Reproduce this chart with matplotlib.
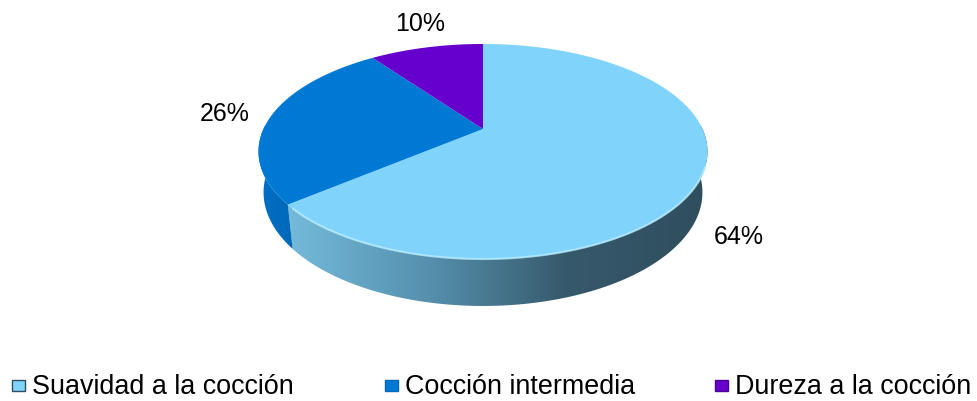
import numpy as np
import matplotlib
matplotlib.use("Agg")
import matplotlib.pyplot as plt
from matplotlib.patches import Polygon, Rectangle
from matplotlib.colors import LinearSegmentedColormap

labels = ["Suavidad a la cocción", "Cocción intermedia", "Dureza a la cocción"]
values = [64, 26, 10]
top_colors = ["#80D3FB", "#0079D5", "#6600CC"]
side_colors = [["#74BADA", "#5590AE", "#36596B", "#2F4E5E"],
               ["#0070C6", "#0068B8"],
               ["#5500AA", "#4A0095"]]
pct_labels = ["64%", "26%", "10%"]
label_pos = [(739, 237), (225, 114), (420, 24)]
legend_x = [12, 385, 715]

plt.rcParams['font.family'] = ['Liberation Sans', 'DejaVu Sans']

W, H = 977, 402
fig = plt.figure(figsize=(W / 100, H / 100), dpi=100)
ax = fig.add_axes([0, 0, 1, 1])
ax.set_xlim(0, W)
ax.set_ylim(H, 0)
ax.axis("off")

# simple perspective projection of a flat cylinder
cx, cy = 483, 130
el = np.radians(27.2)
D, fx, fy, depth = 4.25, 933.0, 956.0, 0.205


def proj(theta, r=1.0, h=0.0):
    # theta in degrees, clockwise from the back of the pie
    t = np.radians(theta)
    u = r * np.sin(t)
    v = r * np.cos(t)
    yc = v * np.sin(el) - h * np.cos(el)
    zc = D + v * np.cos(el) + h * np.sin(el)
    return cx + fx * u / zc, cy - fy * yc / zc


bounds = np.concatenate([[0], np.cumsum(values)]) / sum(values) * 360

# side walls (only the front half is visible)
for i in range(len(values)):
    a0, a1 = max(bounds[i], 88), min(bounds[i + 1], 272)
    if a1 <= a0:
        continue
    th = np.linspace(a0, a1, 200)
    xt, yt = proj(th)
    xb, yb = proj(th[::-1], h=depth)
    pts = np.column_stack([np.concatenate([xt, xb]), np.concatenate([yt, yb])])
    poly = Polygon(pts, closed=True, facecolor="none", edgecolor="none")
    ax.add_patch(poly)
    cmap = LinearSegmentedColormap.from_list("s%d" % i, side_colors[i])
    grad = np.linspace(0, 1, 256).reshape(1, -1)
    im = ax.imshow(grad, cmap=cmap, aspect="auto",
                   extent=[pts[:, 0].min(), pts[:, 0].max(), pts[:, 1].max(), pts[:, 1].min()],
                   zorder=1)
    im.set_clip_path(poly)

# top faces
for i in range(len(values)):
    th = np.linspace(bounds[i], bounds[i + 1], 300)
    x, y = proj(th)
    px = np.concatenate([[cx], x])
    py = np.concatenate([[cy], y])
    ax.add_patch(Polygon(np.column_stack([px, py]), closed=True,
                         facecolor=top_colors[i], edgecolor="none", zorder=2))

# light rim on the front edge
th = np.linspace(110, 228, 200)
x, y = proj(th)
ax.plot(x, y, color="#B8ECFF", lw=1.5, zorder=3, alpha=0.8)

for txt, (lx, ly) in zip(pct_labels, label_pos):
    ax.text(lx, ly, txt, fontsize=18, ha="center", va="center", color="black")

for i, lab in enumerate(labels):
    x0 = legend_x[i]
    ax.add_patch(Rectangle((x0, 381), 13, 11, facecolor=top_colors[i],
                           edgecolor=side_colors[i][-1], lw=1))
    ax.text(x0 + 20, 387, lab, fontsize=19.4, ha="left", va="center", color="black")

fig.savefig("out.png", dpi=100)
